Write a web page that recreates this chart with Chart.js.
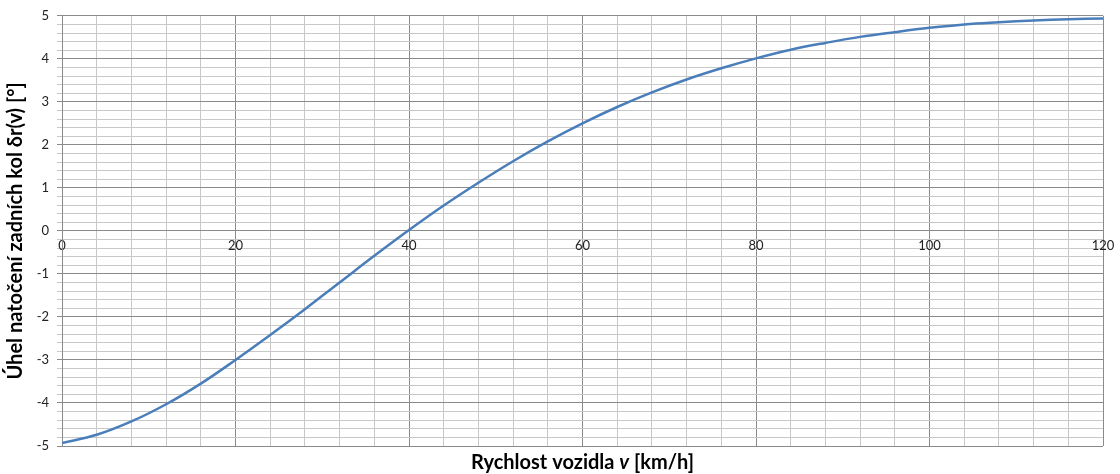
<!DOCTYPE html>
<html>
<head>
<meta charset="utf-8">
<script src="https://cdn.jsdelivr.net/npm/chart.js@4/dist/chart.umd.min.js"></script>
<style>
  html, body { margin: 0; padding: 0; background: #fff; }
  #box { width: 1120px; height: 474px; }
</style>
</head>
<body>
<div id="box"><canvas id="uhelChart"></canvas></div>
<script>
// Rychlost vozidla v [km/h]
const rychlosti = [0, 4, 8, 12, 16, 20, 24, 28, 32, 36, 40, 44, 48, 52, 56, 60,
    64, 68, 72, 76, 80, 84, 88, 92, 96, 100, 104, 108, 112, 116, 120];
// Úhel natočení zadních kol [°]
const uhly = [-4.93, -4.74, -4.43, -4.03, -3.55, -3.0, -2.42, -1.82, -1.2, -0.58, 0.02,
    0.59, 1.12, 1.62, 2.08, 2.5, 2.88, 3.22, 3.52, 3.78, 4.01, 4.21, 4.37, 4.51, 4.62,
    4.72, 4.8, 4.85, 4.89, 4.92, 4.94];
// Popisky os
const osaXPopisky = [0, 20, 40, 60, 80, 100, 120];
const osaYPopisky = [-5, -4, -3, -2, -1, 0, 1, 2, 3, 4, 5];

const FONT = 'Lato, "Open Sans", sans-serif';
const barvaHlavni = '#8a8a8a';
const barvaVedlejsi = '#c8c8c8';

// je hodnota celé číslo (kvůli plovoucí čárce)
const jeCele = v => Math.abs(v - Math.round(v)) < 1e-6;

// Titulek osy X s kurzívou "v" - kreslí se ručně pod grafem
const titulekX = {
    id: 'titulekX',
    afterDraw(chart) {
        const ctx = chart.ctx;
        const casti = [
            { text: 'Rychlost vozidla ', font: 'bold 20px ' + FONT },
            { text: 'v', font: 'italic bold 20px ' + FONT },
            { text: ' [km/h]', font: 'bold 20px ' + FONT }
        ];
        ctx.save();
        let sirka = 0;
        casti.forEach(c => { ctx.font = c.font; sirka += ctx.measureText(c.text).width; });
        const area = chart.chartArea;
        let x = (area.left + area.right) / 2 - sirka / 2;
        ctx.fillStyle = '#000';
        ctx.textBaseline = 'middle';
        casti.forEach(c => {
            ctx.font = c.font;
            ctx.fillText(c.text, x, 463);
            x += ctx.measureText(c.text).width;
        });
        ctx.restore();
    }
};

const data = {
    datasets: [{
        label: 'δr(v)',
        data: rychlosti.map((v, i) => ({ x: v, y: uhly[i] })),
        borderColor: '#4a7ebb',
        borderWidth: 2.5,
        pointRadius: 0,
        tension: 0.4,
        fill: false
    }]
};

const options = {
    responsive: true,
    maintainAspectRatio: false,
    animation: false,
    layout: { padding: { top: 14, right: 17, bottom: 28, left: 0 } },
    plugins: {
        legend: { display: false },
        tooltip: { enabled: false }
    },
    scales: {
        x: {
            type: 'linear',
            position: { y: 0 },
            min: 0,
            max: 120,
            border: { color: barvaHlavni },
            grid: {
                color: ctx => (ctx.tick && ctx.tick.value % 20 === 0) ? barvaHlavni : barvaVedlejsi,
                tickLength: 5
            },
            ticks: {
                stepSize: 4,
                autoSkip: false,
                maxRotation: 0,
                color: '#222',
                font: { family: FONT, size: 13 },
                padding: 2,
                callback: v => osaXPopisky.includes(v) ? String(v) : ''
            }
        },
        y: {
            min: -5,
            max: 5,
            border: { color: barvaHlavni },
            grid: {
                color: ctx => (ctx.tick && jeCele(ctx.tick.value)) ? barvaHlavni : barvaVedlejsi,
                tickLength: 5
            },
            ticks: {
                stepSize: 0.2,
                autoSkip: false,
                color: '#222',
                font: { family: FONT, size: 13 },
                padding: 8,
                callback: v => {
                    if (!jeCele(v)) return '';
                    const n = Math.round(v);
                    return osaYPopisky.includes(n) ? String(n) : '';
                }
            },
            title: {
                display: true,
                text: 'Úhel natočení zadních kol δr(v) [°]',
                color: '#000',
                font: { family: FONT, size: 20, weight: 'bold' },
                padding: { top: 4, bottom: 0 }
            },
            afterFit: scale => { scale.width = 62; }
        }
    }
};

new Chart(document.getElementById('uhelChart').getContext('2d'), {
    type: 'line',
    data: data,
    options: options,
    plugins: [titulekX]
});
</script>
</body>
</html>
